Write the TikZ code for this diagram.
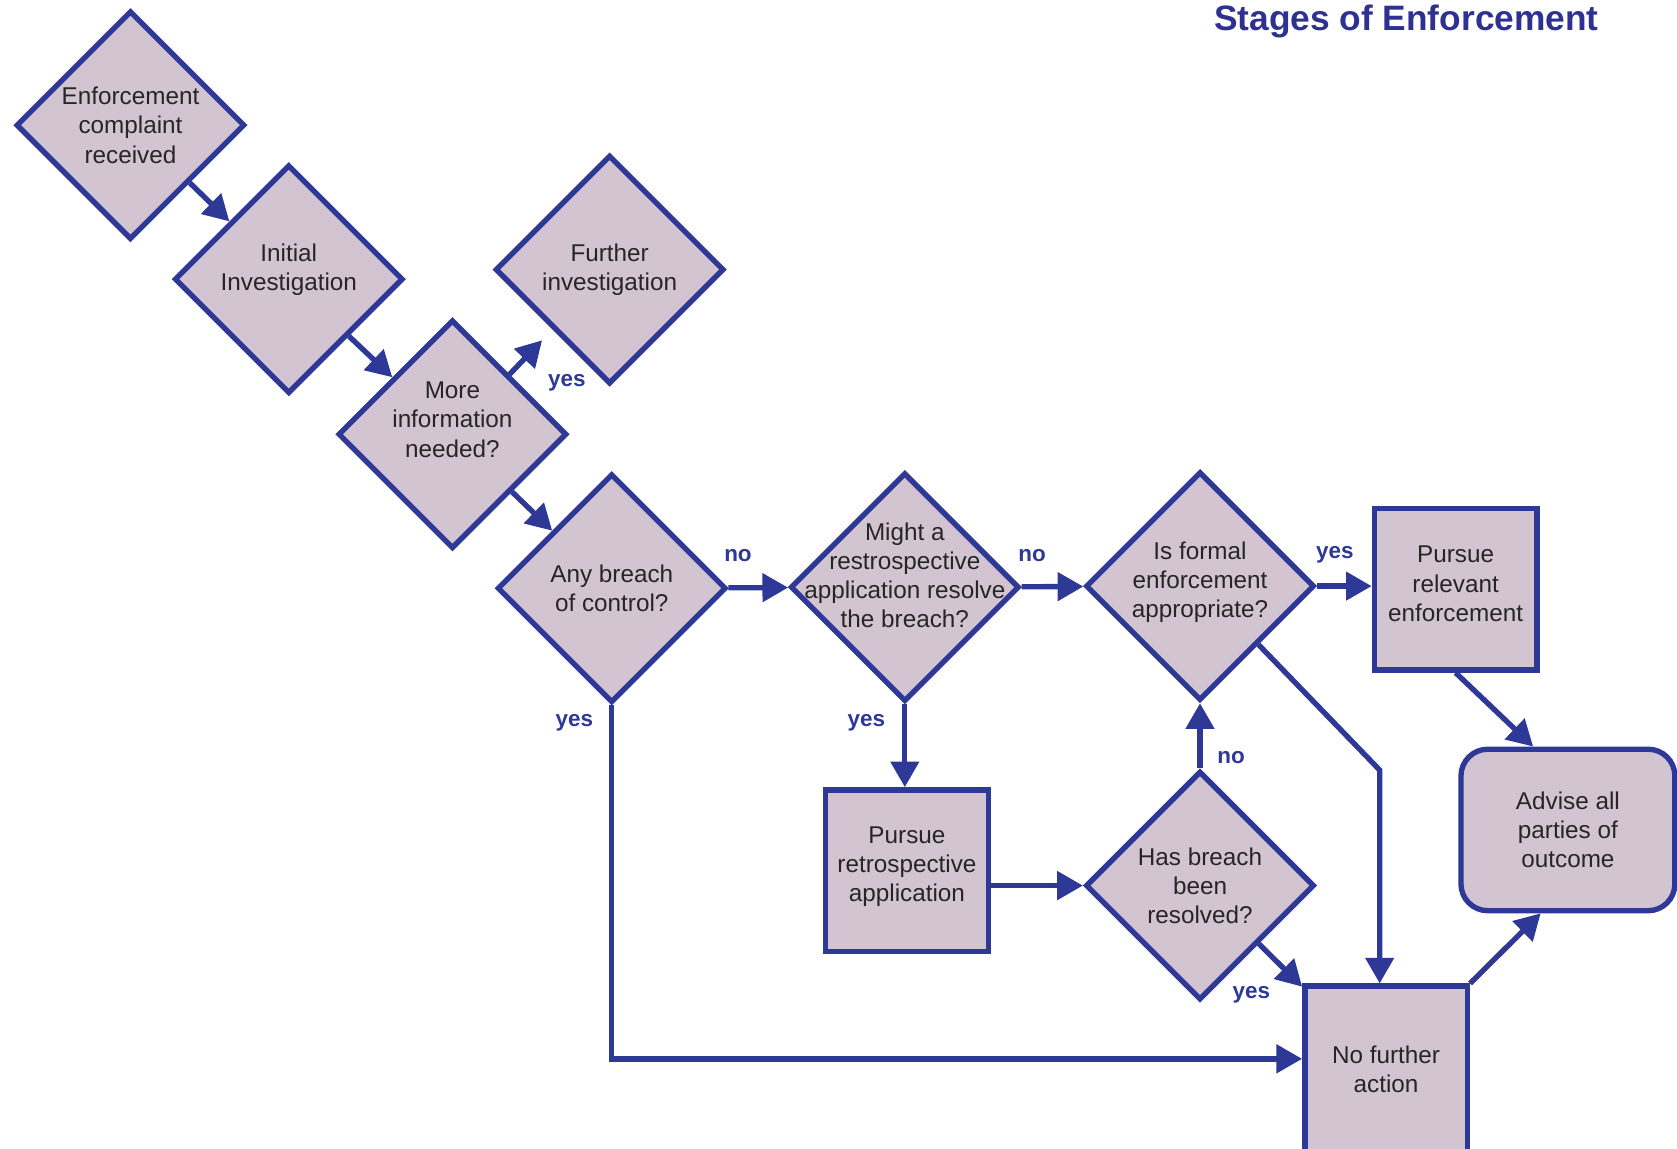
\documentclass[tikz,border=0pt]{standalone}
\usepackage{fontspec}
\setmainfont{Liberation Sans}
\usetikzlibrary{shapes.geometric,arrows.meta}
\definecolor{lineblue}{RGB}{46,56,150}
\definecolor{boxfill}{RGB}{210,196,208}
\definecolor{titleblue}{RGB}{46,49,146}
\begin{document}
\begin{tikzpicture}[x=1pt,y=-1pt]
      \tikzstyle{STY1} = [draw=lineblue, fill=boxfill, diamond, line width=5pt, minimum width=214pt, minimum height=214pt, inner sep=-40pt, align=center, text=black!85, font=\fontsize{22.7}{27.3}\selectfont]
      \tikzstyle{STY2} = [draw=lineblue, fill=boxfill, rectangle, line width=5pt, minimum width=152pt, minimum height=151pt, inner sep=0pt, align=center, text=black!85, font=\fontsize{22.7}{27.3}\selectfont]
      \tikzstyle{STY3} = [draw=lineblue, line width=5pt, -{Triangle[length=24pt,width=26pt]}]
      \tikzstyle{STY4} = [text=lineblue, font=\fontsize{21}{25}\selectfont\bfseries]
      \tikzstyle{STY5} = [text=titleblue, font=\fontsize{33}{40}\selectfont\bfseries]

      \useasboundingbox (0,0) rectangle (1568,1074);

      %%%%% VERTEX

      \node[STY5](t1) at (1315,20) {Stages of Enforcement};

      \node[STY1](v1) at (122,117) {Enforcement\\complaint\\received};
      \node[STY1](v2) at (270,261) {Initial\\Investigation\\[-5pt]\mbox{}};
      \node[STY1](v3) at (423,406) {More\\information\\needed?\\\mbox{}};
      \node[STY1](v4) at (570,252) {Further\\investigation};

      \node[STY1](v5) at (572,550) {Any breach\\of control?};
      \node[STY1](v6) at (846,549) {Might a\\restrospective\\application resolve\\the breach?\\[-5pt]\mbox{}};
      \node[STY1](v7) at (1122,548) {Is formal\\enforcement\\appropriate?\\[-15pt]\mbox{}};
      \node[STY1](v8) at (1122,828) {Has breach\\been\\resolved?};

      \node[STY2](v9) at (848,814) {Pursue\\retrospective\\application\\[-15pt]\mbox{}};
      \node[STY2](v10) at (1361,551) {Pursue\\relevant\\enforcement\\[-17pt]\mbox{}};
      \node[STY2, minimum height=156pt](v11) at (1296,1000) {No further\\action};
      \node[STY2, minimum width=200pt, rounded corners=25pt](v12) at (1466,776) {Advise all\\parties of\\outcome};

      \coordinate (c1) at (1290,720);

      %%%%% EDGES

      \draw[STY3]  (v1) -- (v2);
      \draw[STY3]  (v2) -- (v3);
      \draw[STY3, shorten >=14pt]  (v3) -- (v4);
      \draw[STY3]  (v3) -- (v5);

      \draw[STY3]  (v5) -- (v6);
      \draw[STY3]  (v6) -- (v7);
      \draw[STY3]  (v7.east) -- (v7.east -| v10.west);
      \draw[STY3]  (v6.south) -- (v6.south |- v9.north);
      \draw[STY3]  (v8.west -| v9.east) -- (v8.west);
      \draw[STY3]  (v8.north) -- (v7.south);
      \draw[STY3]  (v8) -- (v11);

      \draw[STY3]  (v5.south) |- ([yshift=10pt]v11.west);
      \draw[STY3]  (v7.south east) -- (c1) -- (c1 |- v11.north);
      \draw[STY3]  (v10.south) -- ([xshift=70pt]v12.north west);
      \draw[STY3]  (v11.north east) -- ([xshift=77pt]v12.south west);

      %%%%% LABELS

      \node[STY4](l1) at (530,358) {yes};
      \node[STY4](l2) at (690,519) {no};
      \node[STY4](l3) at (965,519) {no};
      \node[STY4](l4) at (1248,519) {yes};
      \node[STY4](l5) at (537,676) {yes};
      \node[STY4](l6) at (810,676) {yes};
      \node[STY4](l7) at (1151,708) {no};
      \node[STY4](l8) at (1170,930) {yes};
    \end{tikzpicture}
\end{document}
